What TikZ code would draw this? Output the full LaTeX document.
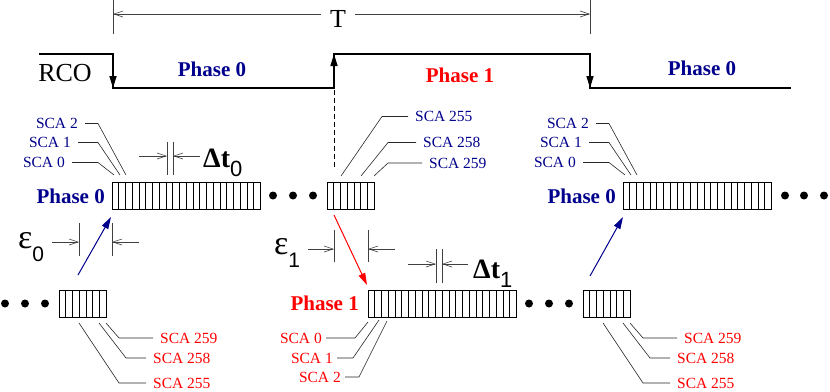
\documentclass[tikz,border=0pt]{standalone}
\usepackage{fontspec}
\setmainfont{Liberation Serif}
\newfontfamily\sansf{Liberation Sans}
\usetikzlibrary{arrows.meta,calc}
\definecolor{pblue}{RGB}{0,0,140}
\definecolor{pred}{RGB}{255,0,0}
\tikzset{
 xbuf/.style={draw,line width=0.6pt,rectangle,minimum height=27pt,inner sep=0pt,outer sep=0pt},
 xcell/.style={line width=0.6pt},
 xlead/.style={line width=0.6pt,black!85},
 xdim/.style={line width=0.6pt,black!75},
 xarr/.style={xdim,-{Straight Barb[length=9pt,width=6pt]}},
 xsig/.style={line width=1.6pt},
 xhead/.style={-{Triangle[length=12pt,width=7pt]}},
 xdot/.style={circle,fill=black,inner sep=0pt,minimum size=8pt},
 xsca/.style={font=\fontsize{15.5}{16}\selectfont,inner ysep=0pt,inner xsep=7pt},
 xphase/.style={font=\bfseries\fontsize{21}{21}\selectfont,inner sep=0pt},
 xbig/.style={font=\fontsize{26}{26}\selectfont,inner sep=0pt},
}
% big top buffer: #1 = x of left edge, #2 = name
\newcommand\topbig[2]{%
\begin{scope}[shift={(#1,0)}]
 \node[xbuf,minimum width=148.5pt,anchor=north west] (#2) at (0,182) {};
 \foreach \i in {1,...,21} \draw[xcell] ([xshift=\i*6.75pt]#2.north west) -- ([xshift=\i*6.75pt]#2.south west);
 \node[xphase,text=pblue,anchor=east] (#2p) at (-7,196) {Phase 0};
 \node[xsca,text=pblue,anchor=east] (#2a) at (-27,123.5) {SCA 2};
 \node[xsca,text=pblue,anchor=east] (#2b) at (-34,142.5) {SCA 1};
 \node[xsca,text=pblue,anchor=east] (#2c) at (-40,162.5) {SCA 0};
 \draw[xlead] (#2a.east) -- (-14,123.5) -- (14,175);
 \draw[xlead] (#2b.east) -- (-14,142.5) -- (8,175);
 \draw[xlead] (#2c.east) -- (-14,162.5) -- (2,175);
\end{scope}}
% small bottom buffer: #1 = x of left edge, #2 = name
\newcommand\botsmall[2]{%
\begin{scope}[shift={(#1,0)}]
 \node[xbuf,minimum width=47.25pt,anchor=north west] (#2) at (0,290) {};
 \foreach \i in {1,...,6} \draw[xcell] ([xshift=\i*6.75pt]#2.north west) -- ([xshift=\i*6.75pt]#2.south west);
 \node[xdot] (#2d1) at (-54,303.5) {};
 \node[xdot] (#2d2) at (-34,303.5) {};
 \node[xdot] (#2d3) at (-14,303.5) {};
 \node[xsca,text=pred,anchor=west] (#2a) at (94,338) {SCA 259};
 \node[xsca,text=pred,anchor=west] (#2b) at (87,358) {SCA 258};
 \node[xsca,text=pred,anchor=west] (#2c) at (87,383) {SCA 255};
 \draw[xlead] (47,323) -- (60,338) -- (#2a.west);
 \draw[xlead] (40,323) -- (67,358) -- (#2b.west);
 \draw[xlead] (20,323) -- (60,383) -- (#2c.west);
\end{scope}}
\begin{document}
\begin{tikzpicture}[x=1pt,y=-1pt]
\useasboundingbox (0,0) rectangle (830,391);

% period T
\coordinate (Tl) at (113,14);
\coordinate (Tr) at (590,14);
\draw[xdim] (113,0) -- (113,34);
\draw[xdim] (590,0) -- (590,34);
\node[xbig,inner xsep=9pt] (T) at (338,19) {T};
\draw[xarr] (T.west |- Tl) -- (Tl);
\draw[xarr] (T.east |- Tr) -- (Tr);

% RCO signal
\node[xbig] (rco) at (65,73) {RCO};
\draw[xsig,line join=miter] (39,54) -- (113,54) -- (113,88) -- (334,88) -- (334,54) -- (590,54) -- (590,88) -- (791,88);
\draw[xsig,xhead] (113,62) -- (113,88);
\draw[xsig,xhead] (334,80) -- (334,54);
\draw[xsig,xhead] (590,62) -- (590,88);
\node[xphase,text=pblue] (ph0a) at (212,69) {Phase 0};
\node[xphase,text=pred] (ph1a) at (460,75) {Phase 1};
\node[xphase,text=pblue] (ph0b) at (702,68) {Phase 0};
\draw[line width=0.6pt,dash pattern=on 5pt off 3pt] (334,90) -- (334,168);

% top buffers
\topbig{112}{tL}
\topbig{623}{tR}
\node[xdot] (tRd1) at (785,195.5) {};
\node[xdot] (tRd2) at (804,195.5) {};
\node[xdot] (tRd3) at (824,195.5) {};

% top middle small buffer
\begin{scope}[shift={(327,0)}]
 \node[xbuf,minimum width=47.25pt,anchor=north west] (tM) at (0,182) {};
 \foreach \i in {1,...,6} \draw[xcell] ([xshift=\i*6.75pt]tM.north west) -- ([xshift=\i*6.75pt]tM.south west);
 \node[xdot] (tMd1) at (-54,195.5) {};
 \node[xdot] (tMd2) at (-34,195.5) {};
 \node[xdot] (tMd3) at (-14,195.5) {};
 \node[xsca,text=pblue,anchor=west] (tMa) at (81,116.5) {SCA 255};
 \node[xsca,text=pblue,anchor=west] (tMb) at (89,142.5) {SCA 258};
 \node[xsca,text=pblue,anchor=west] (tMc) at (95,163) {SCA 259};
 \draw[xlead] (14,176) -- (55,116.5) -- (tMa.west);
 \draw[xlead] (34,176) -- (61,142.5) -- (tMb.west);
 \draw[xlead] (47,176) -- (61,163) -- (tMc.west);
\end{scope}

% bottom small buffers
\botsmall{59}{bL}
\botsmall{583}{bR}

% Phase 1 buffer
\node[xbuf,minimum width=148.5pt,anchor=north west] (p1) at (368,290) {};
\foreach \i in {1,...,21} \draw[xcell] ([xshift=\i*6.75pt]p1.north west) -- ([xshift=\i*6.75pt]p1.south west);
\node[xphase,text=pred,anchor=east] (p1p) at (359,303.5) {Phase 1};
\node[xsca,text=pred,anchor=east,inner xsep=4pt] (p1a) at (326,338) {SCA 0};
\node[xsca,text=pred,anchor=east,inner xsep=4pt] (p1b) at (337,358) {SCA 1};
\node[xsca,text=pred,anchor=east,inner xsep=4pt] (p1c) at (345,377) {SCA 2};
\draw[xlead] (p1a.east) -- (355,338) -- (368,322);
\draw[xlead] (p1b.east) -- (353,358) -- (379,320);
\draw[xlead] (p1c.east) -- (359,377) -- (387,321);

% transitions
\draw[pblue,line width=1pt,xhead] ($(bL.north west)+(19,-15)$) -- ($(tL.south west)+(-1,8)$);
\draw[pblue,line width=1pt,xhead] ($(bR.north west)+(7,-14)$) -- ($(tR.south west)+(0,8)$);
\draw[pred,line width=1pt,xhead] ($(tM.south west)+(7,6)$) -- ($(p1.north west)+(-1,-5)$);

% Delta t0
\draw[xdim] (167,142) -- (167,175);
\draw[xdim] (173,142) -- (173,175);
\draw[xarr] (139,156) -- (167,156);
\draw[xarr] (200,156) -- (173,156);
\node[anchor=base west,inner sep=0pt] (dt0) at (203,167) {\bfseries\fontsize{28}{28}\selectfont Δt\raisebox{-9pt}{\sansf\mdseries\fontsize{22}{22}\selectfont 0}};

% Delta t1
\draw[xdim] (436,249) -- (436,283);
\draw[xdim] (442,249) -- (442,283);
\draw[xarr] (408,264) -- (436,264);
\draw[xarr] (468,264) -- (442,264);
\node[anchor=base west,inner sep=0pt] (dt1) at (473,278) {\bfseries\fontsize{28}{28}\selectfont Δt\raisebox{-9pt}{\sansf\mdseries\fontsize{22}{22}\selectfont 1}};

% epsilon 0
\draw[xdim] (79,223) -- (79,256);
\draw[xdim] (112,223) -- (112,256);
\draw[xarr] (52,242) -- (79,242);
\draw[xarr] (139,242) -- (112,242);
\node[anchor=base west,inner sep=0pt] (e0) at (18,248) {\fontsize{34}{34}\selectfont ε\raisebox{-13pt}{\sansf\fontsize{21}{21}\selectfont 0}};

% epsilon 1
\draw[xdim] (334,230) -- (334,262);
\draw[xdim] (368,230) -- (368,262);
\draw[xarr] (308,249) -- (334,249);
\draw[xarr] (395,249) -- (368,249);
\node[anchor=base west,inner sep=0pt] (e1) at (274,254) {\fontsize{34}{34}\selectfont ε\raisebox{-13pt}{\sansf\fontsize{21}{21}\selectfont 1}};
\end{tikzpicture}
\end{document}
